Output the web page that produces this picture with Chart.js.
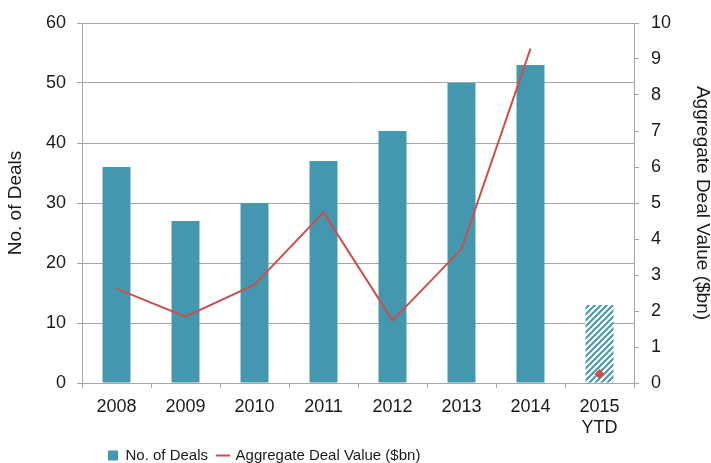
<!DOCTYPE html>
<html>
<head>
<meta charset="utf-8">
<script src="https://cdn.jsdelivr.net/npm/chart.js@4/dist/chart.umd.min.js"></script>
<style>
  html, body { margin: 0; padding: 0; background: #ffffff; }
  #wrap { width: 711px; height: 463px; position: relative; }
</style>
</head>
<body>
<div id="wrap"><canvas id="c"></canvas></div>
<script>
// ---- data ----
const categories = ['2008', '2009', '2010', '2011', '2012', '2013', '2014', ['2015', 'YTD']];
const dealCounts = [36, 27, 30, 37, 42, 50, 53, 13];
const dealValues = [2.62, 1.84, 2.73, 4.74, 1.74, 3.72, 9.29, null];
const ytdDealValue = [null, null, null, null, null, null, null, 0.25];
const leftTicks = [0, 10, 20, 30, 40, 50, 60];
const rightTicks = [0, 1, 2, 3, 4, 5, 6, 7, 8, 9, 10];

// ---- styles ----
const TEAL = '#4397ae';
const RED = '#cc4f4b';
const GRID = '#a6a6a6';
const TEXT = '#1a1a1a';
const FONT = "'Liberation Sans', Arial, sans-serif";

function hatchPattern(color) {
  const s = 6;
  const cv = document.createElement('canvas');
  cv.width = s; cv.height = s;
  const g = cv.getContext('2d');
  g.fillStyle = '#ffffff';
  g.fillRect(0, 0, s, s);
  g.strokeStyle = color;
  g.lineWidth = 2;
  g.beginPath();
  g.moveTo(0, s); g.lineTo(s, 0);
  g.moveTo(-s / 2, s / 2); g.lineTo(s / 2, -s / 2);
  g.moveTo(s / 2, s * 1.5); g.lineTo(s * 1.5, s / 2);
  g.stroke();
  return g.createPattern(cv, 'repeat');
}
const hatch = hatchPattern(TEAL);
const barColors = dealCounts.map((v, i) => i === dealCounts.length - 1 ? hatch : TEAL);

const legendShift = {
  id: 'legendShift',
  afterLayout(chart) {
    const l = chart.legend;
    if (l) { l.left = 98; l.top = 438; }
  }
};

new Chart(document.getElementById('c'), {
  type: 'bar',
  data: {
    labels: categories,
    datasets: [
      {
        type: 'bar',
        label: 'No. of Deals',
        data: dealCounts,
        backgroundColor: barColors,
        borderWidth: 0,
        pointStyle: 'rect',
        yAxisID: 'y',
        categoryPercentage: 1,
        barPercentage: 0.405,
        order: 2
      },
      {
        type: 'line',
        label: 'Aggregate Deal Value ($bn)',
        data: dealValues,
        borderColor: RED,
        backgroundColor: RED,
        borderWidth: 2,
        pointRadius: 0,
        pointHoverRadius: 0,
        pointStyle: 'line',
        pointBorderColor: RED,
        pointBorderWidth: 2,
        tension: 0,
        spanGaps: false,
        yAxisID: 'y1',
        order: 1
      },
      {
        type: 'line',
        label: 'ytd',
        data: ytdDealValue,
        showLine: false,
        pointStyle: 'rectRot',
        pointRadius: 5,
        pointBackgroundColor: '#d0504b',
        pointBorderColor: '#d0504b',
        pointBorderWidth: 0,
        yAxisID: 'y1',
        order: 0
      }
    ]
  },
  options: {
    responsive: true,
    maintainAspectRatio: false,
    animation: false,
    layout: { padding: { top: 23, left: 0, right: 0, bottom: 0 } },
    plugins: {
      tooltip: { enabled: false },
      legend: {
        position: 'bottom',
        align: 'start',
        maxHeight: 24,
        labels: {
          usePointStyle: true,
          boxHeight: 10,
          boxWidth: 10,
          padding: 10,
          color: TEXT,
          font: { family: FONT, size: 15 },
          filter: (item) => item.datasetIndex !== 2,
          sort: (a, b) => a.datasetIndex - b.datasetIndex
        }
      }
    },
    scales: {
      x: {
        grid: { display: true, offset: true, drawOnChartArea: false, tickLength: 5, color: GRID },
        border: { display: true, color: GRID },
        ticks: { color: TEXT, font: { family: FONT, size: 18 }, padding: 8, maxRotation: 0, autoSkip: false },
        afterFit: (s) => { s.height = 56; }
      },
      y: {
        position: 'left',
        min: 0, max: 60,
        afterBuildTicks: (s) => { s.ticks = leftTicks.map(v => ({ value: v })); },
        grid: { color: GRID, tickLength: 5 },
        border: { display: true, color: GRID },
        ticks: { color: TEXT, font: { family: FONT, size: 18 }, padding: 11 },
        title: { display: true, text: 'No. of Deals', color: TEXT, font: { family: FONT, size: 19 }, padding: { top: 4 } },
        afterFit: (s) => { s.width = 82; }
      },
      y1: {
        position: 'right',
        min: 0, max: 10,
        afterBuildTicks: (s) => { s.ticks = rightTicks.map(v => ({ value: v })); },
        grid: { color: GRID, tickLength: 5, drawOnChartArea: false },
        border: { display: true, color: GRID },
        ticks: { color: TEXT, font: { family: FONT, size: 18 }, padding: 12 },
        title: { display: true, text: 'Aggregate Deal Value ($bn)', color: TEXT, font: { family: FONT, size: 19 }, padding: { top: -3 } },
        afterFit: (s) => { s.width = 77; }
      }
    }
  },
  plugins: [legendShift]
});
</script>
</body>
</html>
